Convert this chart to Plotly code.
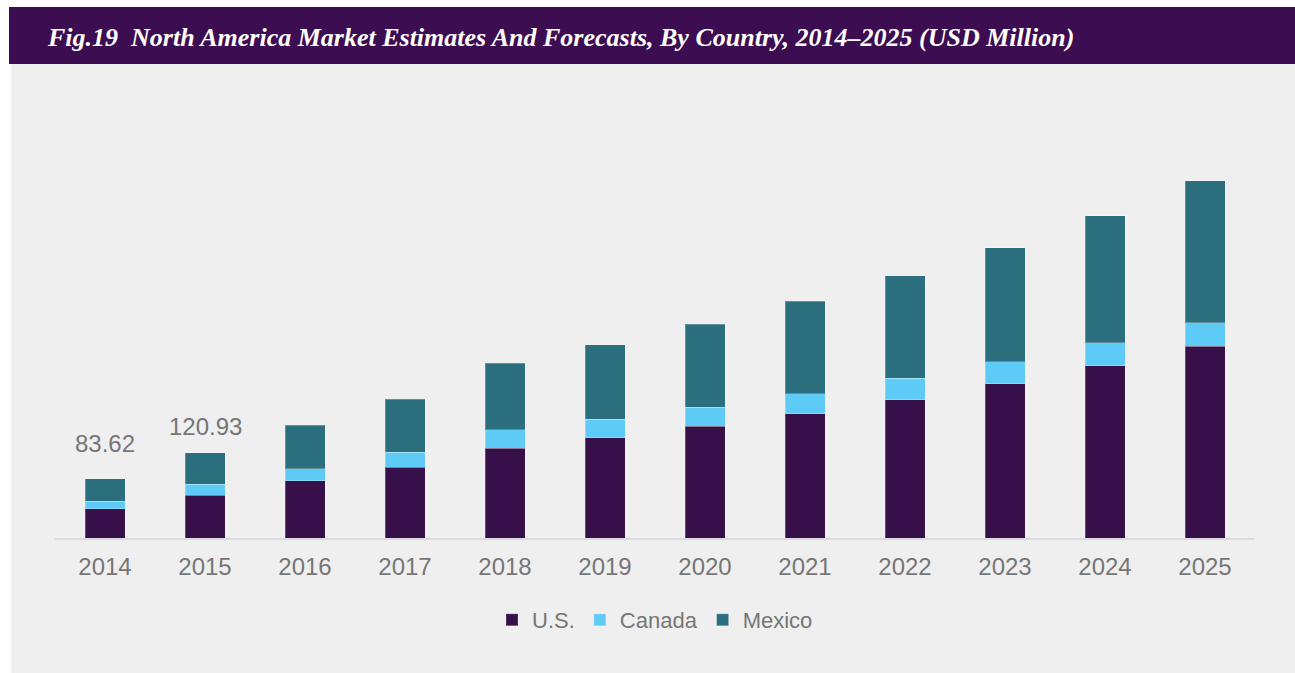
import plotly.graph_objects as go

# North America market by country, USD million
years = ["2014", "2015", "2016", "2017", "2018", "2019",
         "2020", "2021", "2022", "2023", "2024", "2025"]
us = [41.1, 60.9, 81.2, 100.1, 127.1, 142.1, 158.2, 176.1, 195.5, 218.6, 244.1, 271.5]
canada = [11.3, 15.2, 17.0, 21.7, 25.9, 26.1, 27.3, 28.3, 30.7, 31.2, 32.2, 33.4]
mexico = [31.22, 44.83, 61.5, 74.6, 94.5, 105.2, 117.1, 130.9, 145.3, 161.5, 180.3, 201.1]

# years whose totals are printed above the bar, and the lift of each label (px)
labelled_years = ["2014", "2015"]
label_lift = [35, 26]

colors = {"U.S.": "#37104a", "Canada": "#5ecbf7", "Mexico": "#2b6e7e"}
text_gray = "#767676"
font_family = "Liberation Sans, Arial, sans-serif"

W, H = 1295, 673
L, R, T, B = 55, 40, 80, 135
plot_w = W - L - R
plot_h = H - T - B


def px_x(x):
    return (x - L) / plot_w


def px_y(y):
    return (H - B - y) / plot_h


fig = go.Figure()
for name, vals in [("U.S.", us), ("Canada", canada), ("Mexico", mexico)]:
    fig.add_trace(go.Bar(
        x=years, y=vals, name=name,
        marker=dict(color=colors[name],
                    line=dict(color="rgba(255,255,255,0.25)", width=1)),
    ))

totals = [u + c + m for u, c, m in zip(us, canada, mexico)]
for yr, lift in zip(labelled_years, label_lift):
    i = years.index(yr)
    # category axes take the category's index as a position
    fig.add_annotation(
        x=i, y=totals[i], xref="x", yref="y",
        text=f"{totals[i]:.2f}", showarrow=False,
        yanchor="middle", yshift=lift,
        font=dict(family=font_family, size=24, color=text_gray),
    )

# header band and grey panel
fig.add_shape(type="rect", xref="paper", yref="paper", layer="below",
              x0=px_x(11), x1=px_x(W), y0=px_y(H), y1=px_y(64),
              fillcolor="#efefef", line=dict(width=0))
fig.add_shape(type="rect", xref="paper", yref="paper", layer="below",
              x0=px_x(9), x1=px_x(W), y0=px_y(64), y1=px_y(7),
              fillcolor="#3c0d50", line=dict(width=0))

fig.add_annotation(
    xref="paper", yref="paper", x=px_x(45), y=px_y(38),
    xanchor="left", yanchor="middle", showarrow=False,
    text="<b><i>Fig.19  North America Market Estimates And Forecasts, By Country, 2014\u20132025 (USD Million)</i></b>",
    font=dict(family="Liberation Serif, Times New Roman, serif", size=26, color="white"),
)

fig.update_layout(
    width=W, height=H,
    margin=dict(l=L, r=R, t=T, b=B),
    barmode="stack", bargap=0.6,
    paper_bgcolor="white", plot_bgcolor="rgba(0,0,0,0)",
    font=dict(family=font_family, color=text_gray),
    showlegend=True,
    legend=dict(orientation="h", x=0.5, xanchor="center",
                y=px_y(620), yanchor="middle",
                font=dict(size=22, color=text_gray),
                bgcolor="rgba(0,0,0,0)", traceorder="normal",
                itemwidth=30, tracegroupgap=0),
)
fig.update_xaxes(
    type="category", range=[-0.5, len(years) - 0.5],
    showline=True, linecolor="#dcdcdc", linewidth=2,
    showgrid=False, ticks="", ticklabelstandoff=6,
    tickfont=dict(size=24, color=text_gray),
    fixedrange=True,
)
fig.update_yaxes(
    range=[0, plot_h / 0.706], visible=False, showgrid=False,
    zeroline=False, fixedrange=True,
)

fig.write_html("out.html")
